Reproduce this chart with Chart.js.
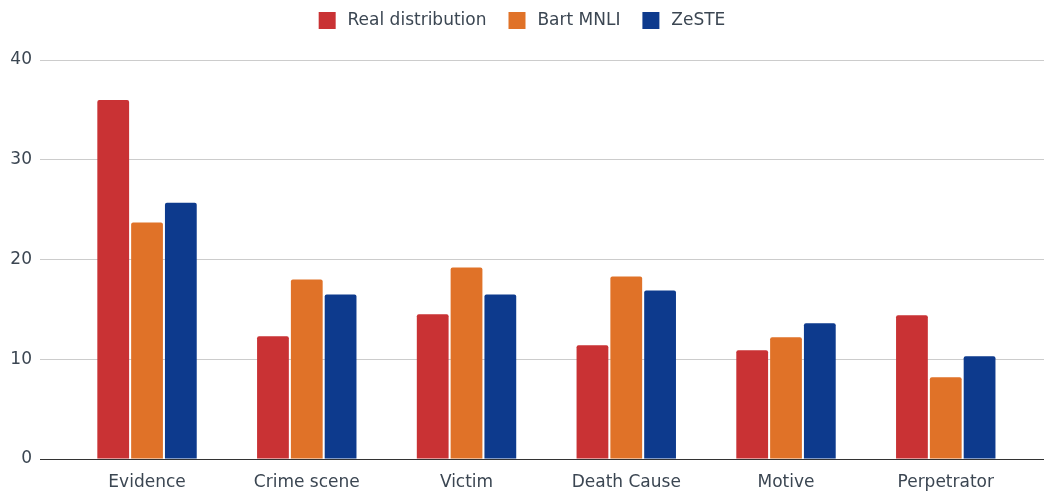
<!DOCTYPE html>
<html>
<head>
<meta charset="utf-8">
<script src="https://cdn.jsdelivr.net/npm/chart.js@4.4.0/dist/chart.umd.min.js"></script>
<style>
  html, body { margin: 0; padding: 0; background: #fff; }
  #wrap { width: 1044px; height: 491px; }
</style>
</head>
<body>
<div id="wrap"><canvas id="chartCanvas"></canvas></div>
<script>
// categories and series
const categories = ['Evidence', 'Crime scene', 'Victim', 'Death Cause', 'Motive', 'Perpetrator'];
const realDistribution = [36.0, 12.3, 14.5, 11.4, 10.9, 14.4];
const bartMnli = [23.7, 18.0, 19.2, 18.3, 12.2, 8.2];
const zeste = [25.7, 16.5, 16.5, 16.9, 13.6, 10.3];
const yTicks = [0, 10, 20, 30, 40];

const textColor = '#3b4652';
const font = { family: "'DejaVu Sans', sans-serif", size: 17 };

function toPoints(values) {
    return values.map((v, i) => ({ x: i, y: v }));
}

function makeDataset(label, values, color) {
    return {
        label: label,
        data: toPoints(values),
        backgroundColor: color,
        borderColor: color,
        borderWidth: 0,
        borderRadius: 2,
        borderSkipped: 'bottom',
        categoryPercentage: 0.635,
        barPercentage: 0.94,
    };
}

// tăng chiều cao legend để đẩy vùng vẽ xuống
const legendSpacer = {
    id: 'legendSpacer',
    beforeInit(chart) {
        const origFit = chart.legend.fit;
        chart.legend.fit = function () {
            origFit.call(this);
            this.height += 21;
        };
    }
};

window.addEventListener('load', () => {
    const ctx = document.getElementById('chartCanvas').getContext('2d');
    new Chart(ctx, {
        type: 'bar',
        data: {
            datasets: [
                makeDataset('Real distribution', realDistribution, '#c93234'),
                makeDataset('Bart MNLI', bartMnli, '#e07228'),
                makeDataset('ZeSTE', zeste, '#0d3a8d'),
            ]
        },
        options: {
            responsive: true,
            maintainAspectRatio: false,
            animation: false,
            layout: { padding: { top: -10, right: 0, left: 0, bottom: 0 } },
            plugins: {
                tooltip: { enabled: false },
                legend: {
                    display: true,
                    position: 'top',
                    labels: {
                        boxWidth: 17,
                        boxHeight: 17,
                        padding: 22,
                        color: textColor,
                        font: font,
                        generateLabels: chart => {
                            const items = Chart.defaults.plugins.legend.labels.generateLabels(chart);
                            // khoảng cách giữa ô màu và chữ rộng hơn một chút
                            items.forEach(item => { item.text = '\u2009' + item.text; });
                            return items;
                        }
                    }
                }
            },
            scales: {
                x: {
                    type: 'linear',
                    offset: false,
                    min: -0.67,
                    max: 5.615,
                    grid: { display: false },
                    border: { display: true, color: '#333', width: 1 },
                    afterBuildTicks: scale => {
                        scale.ticks = categories.map((c, i) => ({ value: i }));
                    },
                    afterFit: scale => { scale.height = 32; },
                    ticks: {
                        color: textColor,
                        font: font,
                        padding: 5,
                        maxRotation: 0,
                        autoSkip: false,
                        callback: value => categories[value] ?? '',
                    }
                },
                y: {
                    min: 0,
                    max: 40,
                    afterBuildTicks: scale => {
                        scale.ticks = yTicks.map(v => ({ value: v }));
                    },
                    afterFit: scale => { scale.width = 40; },
                    border: { display: false },
                    grid: {
                        color: ctx => ctx.tick && ctx.tick.value === 0 ? '#333' : '#cccccc',
                        drawTicks: false,
                    },
                    ticks: {
                        color: textColor,
                        font: font,
                        padding: 8,
                    }
                }
            }
        },
        plugins: [legendSpacer]
    });
});
</script>
</body>
</html>
